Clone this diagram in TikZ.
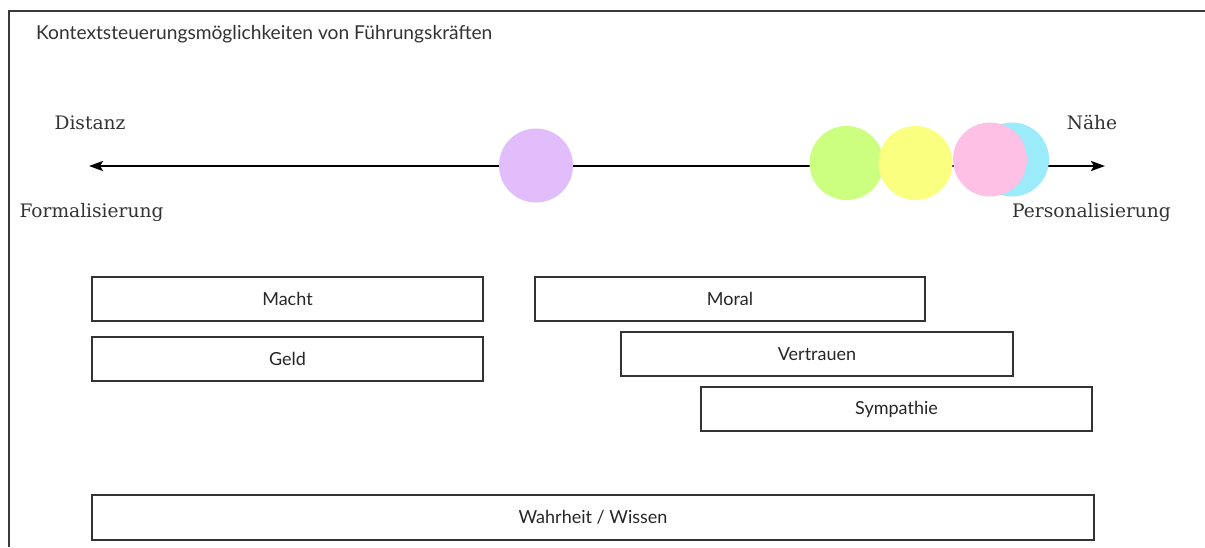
\documentclass[tikz,border=0pt]{standalone}
\usepackage{fontspec}
\setmainfont{DejaVu Serif}
\newfontfamily\boxfont{Lato}
\usetikzlibrary{arrows.meta}
\definecolor{framegray}{HTML}{3A3A3A}
\definecolor{txtgray}{HTML}{333333}
\definecolor{cpurple}{HTML}{E1BEFB}
\definecolor{cgreen}{HTML}{CCFF80}
\definecolor{cyellow}{HTML}{FBFF80}
\definecolor{ccyan}{HTML}{9BEBFA}
\definecolor{cpink}{HTML}{FFC0E6}
\tikzset{
  framestroke/.style={draw=framegray, line width=2pt},
  axislabel/.style={font=\fontsize{18.6}{21}\selectfont, text=txtgray, inner sep=0pt},
  bubble/.style={circle, minimum size=74pt, inner sep=0pt, draw=none},
  itembox/.style={draw=txtgray, line width=1.8pt, fill=white, minimum height=44pt,
    inner sep=0pt, font=\boxfont\fontsize{18}{20}\selectfont, text=black!85},
  axis/.style={line width=2.5pt, black, {Stealth[length=14pt,width=10pt,inset=3pt]}-{Stealth[length=14pt,width=10pt,inset=3pt]}}
}
\begin{document}
\begin{tikzpicture}[x=1pt,y=-1pt]
\useasboundingbox (0,0) rectangle (1205,547);
\fill[white] (0,0) rectangle (1205,547);
% frame
\coordinate (ftl) at (8.5,10.5);
\coordinate (ftr) at (1205,10.5);
\coordinate (fbl) at (8.5,547);
\draw[framestroke] (ftr) -- (ftl) -- (fbl);
% title
\node[anchor=base west, inner sep=0pt, font=\boxfont\fontsize{19.2}{21}\selectfont, text=txtgray] (title) at (36,39) {Kontextsteuerungsmöglichkeiten von Führungskräften};
% axis labels
\node[axislabel] (distanz) at (90,123) {Distanz};
\node[axislabel] (form) at (91.5,212) {Formalisierung};
\node[axislabel] (naehe) at (1092,123) {Nähe};
\node[axislabel] (pers) at (1091.5,212) {Personalisierung};
% axis
\coordinate (axL) at (89,166);
\coordinate (axR) at (1105,166);
\draw[axis] (axL) -- (axR);
% circles
\node[bubble, fill=cpurple] (purple) at (536,165.5) {};
\node[bubble, fill=cgreen] (green) at (846.5,163) {};
\node[bubble, fill=cyellow] (yellow) at (915.5,163) {};
\node[bubble, fill=ccyan] (cyan) at (1012,159.5) {};
\node[bubble, fill=cpink] (pink) at (990,159.5) {};
% boxes
\node[itembox, minimum width=391pt] (macht) at (287.5,299) {Macht};
\node[itembox, minimum width=391pt] (geld) at (287.5,359) {Geld};
\node[itembox, minimum width=390pt] (moral) at (730,299) {Moral};
\node[itembox, minimum width=392pt] (vertrauen) at (817,354) {Vertrauen};
\node[itembox, minimum width=391pt] (sympathie) at (896.5,409) {Sympathie};
\node[itembox, minimum width=1002pt, minimum height=45pt] (wahrheit) at (593,517.5) {Wahrheit / Wissen};
\end{tikzpicture}
\end{document}
